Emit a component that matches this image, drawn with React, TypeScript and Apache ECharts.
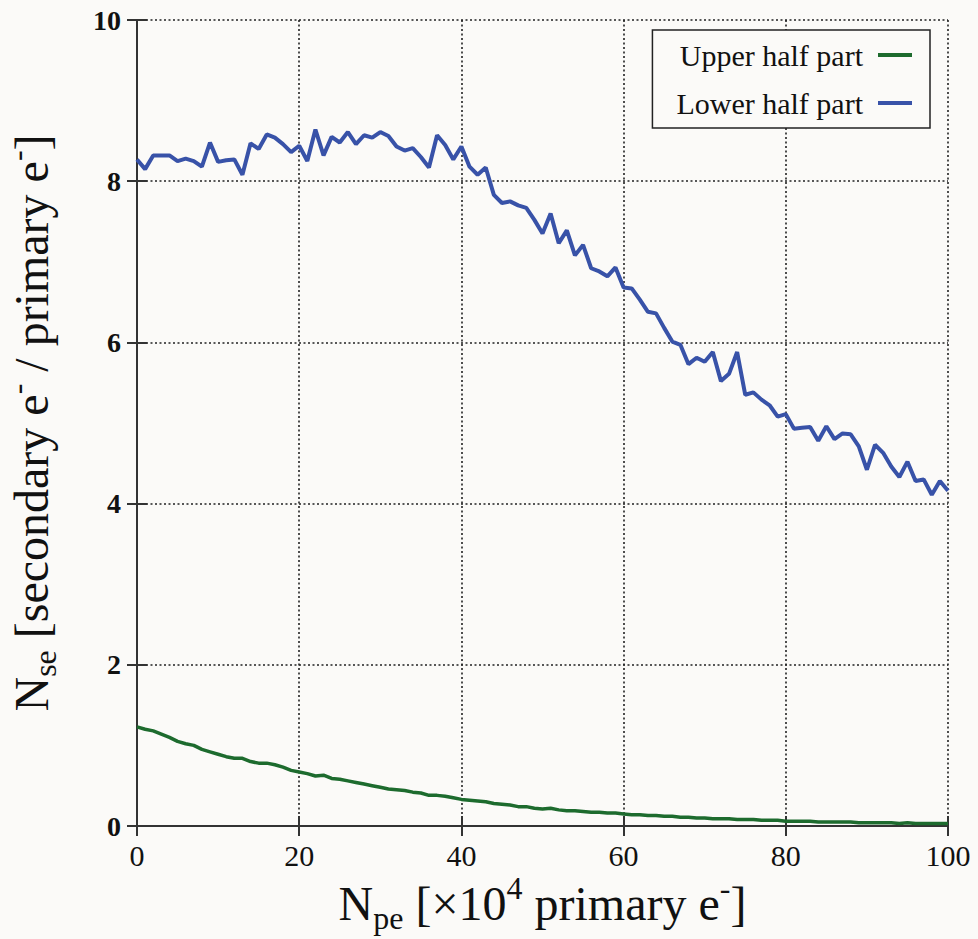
import React, { useEffect, useRef } from "react";
import * as echarts from "echarts";

// N_pe values [x10^4 primary e-], one sample per unit from 0 to 100
const lowerHalf = [
  8.27, 8.15, 8.32, 8.32, 8.32, 8.25, 8.28, 8.25, 8.18, 8.48,
  8.24, 8.26, 8.27, 8.08, 8.47, 8.40, 8.58, 8.54, 8.46, 8.36,
  8.44, 8.25, 8.64, 8.32, 8.55, 8.48, 8.61, 8.46, 8.57, 8.54,
  8.61, 8.56, 8.43, 8.38, 8.41, 8.30, 8.17, 8.57, 8.45, 8.27,
  8.43, 8.18, 8.08, 8.17, 7.83, 7.73, 7.75, 7.70, 7.67, 7.52,
  7.35, 7.60, 7.23, 7.39, 7.08, 7.21, 6.92, 6.88, 6.82, 6.93,
  6.68, 6.67, 6.53, 6.38, 6.36, 6.18, 6.01, 5.97, 5.73, 5.81,
  5.76, 5.88, 5.52, 5.61, 5.88, 5.35, 5.38, 5.29, 5.22, 5.08,
  5.11, 4.93, 4.94, 4.95, 4.78, 4.96, 4.80, 4.87, 4.86, 4.71,
  4.42, 4.73, 4.63, 4.46, 4.33, 4.52, 4.28, 4.30, 4.11, 4.28,
  4.16,
];

const upperHalf = [
  1.23, 1.20, 1.18, 1.14, 1.10, 1.05, 1.02, 1.00, 0.95, 0.92,
  0.89, 0.86, 0.84, 0.84, 0.80, 0.78, 0.78, 0.76, 0.73, 0.69,
  0.67, 0.65, 0.62, 0.63, 0.59, 0.58, 0.56, 0.54, 0.52, 0.50,
  0.48, 0.46, 0.45, 0.44, 0.42, 0.41, 0.38, 0.38, 0.37, 0.35,
  0.33, 0.32, 0.31, 0.30, 0.28, 0.27, 0.26, 0.24, 0.24, 0.22,
  0.21, 0.22, 0.20, 0.19, 0.19, 0.18, 0.17, 0.17, 0.16, 0.16,
  0.15, 0.14, 0.14, 0.13, 0.13, 0.12, 0.12, 0.11, 0.11, 0.10,
  0.10, 0.09, 0.09, 0.09, 0.08, 0.08, 0.08, 0.07, 0.07, 0.07,
  0.06, 0.06, 0.06, 0.06, 0.05, 0.05, 0.05, 0.05, 0.05, 0.04,
  0.04, 0.04, 0.04, 0.04, 0.03, 0.04, 0.03, 0.03, 0.03, 0.03,
  0.03,
];

const seriesNames = ["Upper half part", "Lower half part"];
const seriesColors = ["#1d6b2e", "#3852a8"];

const SERIF = "Liberation Serif";

const toPairs = (vals: number[]) => vals.map((v, i) => [i, v]);

export default function App() {
  const ref = useRef<HTMLDivElement>(null);

  useEffect(() => {
    document.body.style.margin = "0";
    document.body.style.background = "#fbfaf8";
    if (!ref.current) return;
    const chart = echarts.init(ref.current, null, { renderer: "svg" });

    const axisLineStyle = { color: "#333", width: 2 };
    const gridLine = {
      show: true,
      lineStyle: { color: "#222", width: 1.6, type: [2, 2.5] as any },
    };
    const makeRich = (size: number, subSize: number, extra: number) => ({
      n: { fontFamily: SERIF, fontSize: size, color: "#111", lineHeight: size + extra, verticalAlign: "middle" },
      sub: { fontFamily: SERIF, fontSize: subSize, color: "#111", lineHeight: 16, verticalAlign: "bottom" },
      sup: { fontFamily: SERIF, fontSize: subSize, color: "#111", lineHeight: 16, verticalAlign: "top" },
    });

    chart.setOption({
      animation: false,
      backgroundColor: "#fbfaf8",
      textStyle: { fontFamily: SERIF },
      grid: { left: 137, right: 30, top: 20, bottom: 113, outerBoundsMode: "none", containLabel: false },
      legend: {
        data: seriesNames,
        orient: "vertical",
        right: 48,
        top: 30,
        align: "right",
        icon: "rect",
        itemWidth: 34,
        itemHeight: 4,
        itemGap: 18,
        padding: [10, 18, 10, 24],
        borderColor: "#222",
        borderWidth: 1.5,
        backgroundColor: "#fbfaf8",
        textStyle: { fontFamily: SERIF, fontSize: 30, color: "#111", padding: [0, 10, 0, 0] },
      },
      xAxis: [
        {
          type: "value",
          min: 0,
          max: 100,
          interval: 20,
          position: "bottom",
          name: "{n|N}{sub|pe}{n| [×10}{sup|4}{n| primary e}{sup|-}{n|]}",
          nameLocation: "middle",
          nameGap: 46,
          nameMoveOverlap: false,
          nameTextStyle: { fontFamily: SERIF, rich: makeRich(48, 32, 14) },
          axisLine: { show: true, lineStyle: axisLineStyle },
          axisTick: { show: true, inside: true, length: 10, lineStyle: axisLineStyle },
          axisLabel: { fontFamily: SERIF, fontSize: 30, color: "#111", margin: 14 },
          splitLine: gridLine,
        },
        {
          type: "value",
          min: 0,
          max: 100,
          interval: 20,
          position: "top",
          axisLine: { show: true, lineStyle: axisLineStyle },
          axisTick: { show: true, inside: true, length: 10, lineStyle: axisLineStyle },
          axisLabel: { show: false },
          splitLine: { show: false },
        },
      ],
      yAxis: [
        {
          type: "value",
          min: 0,
          max: 10,
          interval: 2,
          position: "left",
          name: "{n|N}{sub|se}{n| [secondary e}{sup|-}{n| / primary e}{sup|-}{n|]}",
          nameLocation: "middle",
          nameGap: 76,
          nameMoveOverlap: false,
          nameTextStyle: { fontFamily: SERIF, rich: makeRich(48, 32, 12) },
          axisLine: { show: true, lineStyle: axisLineStyle },
          axisTick: { show: true, inside: true, length: 10, lineStyle: axisLineStyle },
          axisLabel: { fontFamily: SERIF, fontSize: 28, fontWeight: "bold", color: "#111", margin: 16 },
          splitLine: gridLine,
        },
        {
          type: "value",
          min: 0,
          max: 10,
          interval: 2,
          position: "right",
          axisLine: { show: true, lineStyle: axisLineStyle },
          axisTick: { show: true, inside: true, length: 10, lineStyle: axisLineStyle },
          axisLabel: { show: false },
          splitLine: { show: false },
        },
      ],
      series: [
        {
          name: seriesNames[0],
          type: "line",
          data: toPairs(upperHalf),
          showSymbol: false,
          symbol: "none",
          color: seriesColors[0],
          lineStyle: { color: seriesColors[0], width: 3.5 },
          z: 3,
        },
        {
          name: seriesNames[1],
          type: "line",
          data: toPairs(lowerHalf),
          showSymbol: false,
          symbol: "none",
          color: seriesColors[1],
          lineStyle: { color: seriesColors[1], width: 4 },
          z: 3,
        },
      ],
    });

    return () => chart.dispose();
  }, []);

  return <div ref={ref} style={{ width: 978, height: 939 }} />;
}
